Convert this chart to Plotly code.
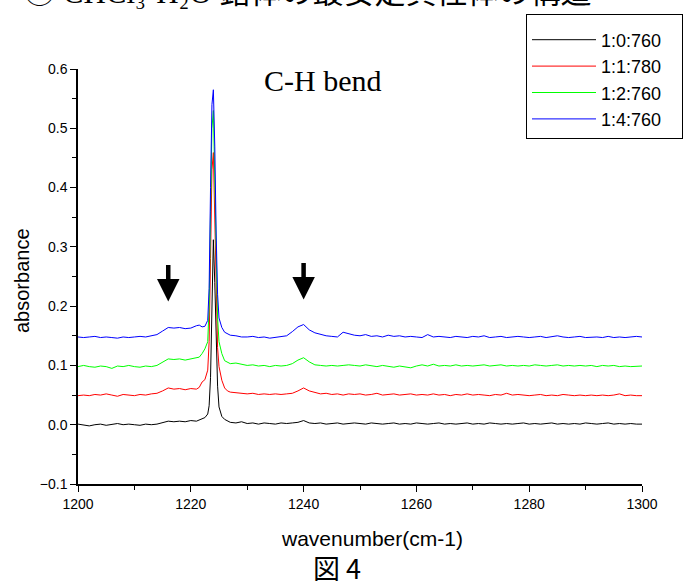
import plotly.graph_objects as go

# ---- data ----
wavenumber = (
    [1200, 1201, 1202, 1203, 1204, 1205, 1206, 1207, 1208, 1209,
     1210, 1211, 1212, 1213, 1214, 1215, 1216, 1217, 1218, 1219,
     1220, 1221]
    + [1221.5, 1222, 1222.5, 1223, 1223.25, 1223.5, 1223.75, 1224,
       1224.25, 1224.5, 1224.75, 1225, 1225.5, 1226, 1226.5, 1227]
    + list(range(1228, 1301))
)

abs_1_0_760 = [
    0.001, 0.000, -0.002, 0.000, 0.001, -0.001, 0.000, 0.002, 0.000, 0.001,
    0.000, -0.001, 0.001, 0.000, 0.001, 0.003, 0.006, 0.005, 0.006, 0.005,
    0.007, 0.006,
    0.008, 0.009, 0.012, 0.018, 0.032, 0.080, 0.210, 0.312,
    0.240, 0.130, 0.065, 0.030, 0.014, 0.009, 0.006, 0.004,
    0.003, 0.005, 0.002, 0.003, 0.001, 0.003, 0.002, 0.001, 0.003, 0.002,
    0.003, 0.004, 0.007, 0.003, 0.002, 0.003, 0.001, 0.002, 0.003, 0.001,
    0.002, 0.003, 0.002, 0.001, 0.003, 0.002, 0.001, 0.002, 0.003, 0.001,
    0.002, 0.001, 0.003, 0.002, 0.001, 0.002, 0.003, 0.001, 0.002, 0.001,
    0.002, 0.003, 0.001, 0.002, 0.001, 0.003, 0.002, 0.001, 0.002, 0.001,
    0.002, 0.003, 0.001, 0.002, 0.001, 0.002, 0.003, 0.001, 0.002, 0.001,
    0.002, 0.001, 0.003, 0.002, 0.001, 0.002, 0.003, 0.001, 0.002, 0.001,
    0.002, 0.001, 0.001,
]

abs_1_1_780 = [
    0.049, 0.050, 0.049, 0.051, 0.050, 0.052, 0.050, 0.048, 0.051, 0.050,
    0.049, 0.051, 0.050, 0.052, 0.053, 0.057, 0.062, 0.060, 0.061, 0.059,
    0.061, 0.060,
    0.063, 0.072, 0.076, 0.092, 0.140, 0.280, 0.430, 0.459,
    0.360, 0.220, 0.130, 0.098, 0.075, 0.062, 0.057, 0.055,
    0.054, 0.053, 0.052, 0.053, 0.051, 0.052, 0.051, 0.052, 0.051, 0.052,
    0.053, 0.057, 0.062, 0.057, 0.054, 0.052, 0.053, 0.051, 0.052, 0.050,
    0.052, 0.051, 0.052, 0.050, 0.051, 0.053, 0.050, 0.051, 0.052, 0.050,
    0.051, 0.052, 0.050, 0.051, 0.050, 0.052, 0.050, 0.051, 0.049, 0.051,
    0.050, 0.052, 0.050, 0.051, 0.050, 0.049, 0.051, 0.050, 0.053, 0.050,
    0.051, 0.050, 0.049, 0.050, 0.051, 0.049, 0.050, 0.049, 0.051, 0.050,
    0.049, 0.050, 0.049, 0.050, 0.049, 0.050, 0.049, 0.050, 0.052, 0.049,
    0.050, 0.049, 0.049,
]

abs_1_2_760 = [
    0.098, 0.100, 0.098, 0.097, 0.099, 0.098, 0.095, 0.099, 0.098, 0.100,
    0.098, 0.097, 0.099, 0.098, 0.100, 0.105, 0.111, 0.110, 0.111, 0.109,
    0.111, 0.112,
    0.114, 0.120, 0.128, 0.140, 0.200, 0.360, 0.500, 0.530,
    0.420, 0.280, 0.180, 0.140, 0.120, 0.108, 0.105, 0.103,
    0.104, 0.102, 0.100, 0.101, 0.099, 0.100, 0.098, 0.100, 0.099, 0.100,
    0.103, 0.109, 0.113, 0.106, 0.101, 0.100, 0.099, 0.100, 0.099, 0.100,
    0.101, 0.100, 0.099, 0.101, 0.100, 0.098, 0.100, 0.099, 0.097, 0.099,
    0.098, 0.096, 0.099, 0.101, 0.099, 0.102, 0.099, 0.100, 0.099, 0.101,
    0.099, 0.100, 0.099, 0.100, 0.101, 0.099, 0.100, 0.101, 0.099, 0.100,
    0.099, 0.100, 0.099, 0.101, 0.100, 0.099, 0.100, 0.101, 0.099, 0.100,
    0.099, 0.100, 0.099, 0.100, 0.098, 0.100, 0.099, 0.100, 0.098, 0.099,
    0.098, 0.099, 0.099,
]

abs_1_4_760 = [
    0.148, 0.147, 0.148, 0.149, 0.147, 0.148, 0.147, 0.146, 0.148, 0.147,
    0.148, 0.149, 0.148, 0.150, 0.152, 0.158, 0.164, 0.163, 0.164, 0.162,
    0.163, 0.167,
    0.168, 0.165, 0.166, 0.176, 0.230, 0.400, 0.540, 0.565,
    0.470, 0.320, 0.220, 0.180, 0.164, 0.156, 0.153, 0.151,
    0.150, 0.148, 0.148, 0.149, 0.147, 0.148, 0.146, 0.147, 0.148, 0.150,
    0.157, 0.165, 0.169, 0.160, 0.155, 0.152, 0.150, 0.149, 0.148, 0.156,
    0.153, 0.151, 0.150, 0.152, 0.149, 0.150, 0.148, 0.151, 0.149, 0.150,
    0.148, 0.149, 0.148, 0.147, 0.152, 0.148, 0.149, 0.148, 0.147, 0.149,
    0.148, 0.147, 0.149, 0.148, 0.150, 0.147, 0.148, 0.149, 0.147, 0.148,
    0.149, 0.148, 0.147, 0.148, 0.149, 0.147, 0.148, 0.150, 0.148, 0.147,
    0.148, 0.149, 0.147, 0.148, 0.148, 0.147, 0.149, 0.147, 0.148, 0.147,
    0.148, 0.149, 0.148,
]

series_names = ["1:0:760", "1:1:780", "1:2:760", "1:4:760"]
series_values = [abs_1_0_760, abs_1_1_780, abs_1_2_760, abs_1_4_760]
series_colors = ["#000000", "#ff0000", "#00ff00", "#0000ff"]

arrow_x = [1216, 1240]
arrow_tip_y = [0.208, 0.211]

x_ticks = [1200, 1220, 1240, 1260, 1280, 1300]
y_ticks = [-0.1, 0.0, 0.1, 0.2, 0.3, 0.4, 0.5, 0.6]

# ---- figure ----
SANS = "Liberation Sans, Arial, sans-serif"
SERIF = "Liberation Serif, Times New Roman, serif"

fig = go.Figure()
for name, vals, col in zip(series_names, series_values, series_colors):
    n = min(len(wavenumber), len(vals))
    fig.add_trace(go.Scatter(
        x=wavenumber[:n], y=vals[:n], mode="lines",
        name=name + "&nbsp;&nbsp;&nbsp;",
        line=dict(color=col, width=1),
    ))

fig.update_layout(
    width=683, height=581,
    margin=dict(l=78, r=41, t=69, b=97, autoexpand=False),
    paper_bgcolor="white", plot_bgcolor="white",
    showlegend=True,
    legend=dict(
        xref="container", yref="container",
        x=526 / 683, y=1 - 14 / 581, xanchor="left", yanchor="top",
        bordercolor="black", borderwidth=1, bgcolor="white",
        font=dict(family=SANS, size=18, color="black"),
        itemwidth=64, tracegroupgap=0,
        title=dict(text=" ", font=dict(size=5)),
    ),
    font=dict(family=SANS, color="black"),
)

fig.update_xaxes(
    range=[1200, 1300], tickvals=x_ticks,
    showgrid=False, zeroline=False,
    showline=True, linecolor="black", linewidth=1.5,
    ticks="outside", ticklen=6, tickwidth=1, tickcolor="black",
    minor=dict(dtick=10, ticks="outside", ticklen=4, tickcolor="black", showgrid=False),
    tickfont=dict(family=SANS, size=14, color="black"),
)
fig.update_yaxes(
    range=[-0.1, 0.6], tickvals=y_ticks, tickformat=".1f",
    showgrid=False, zeroline=False,
    showline=True, linecolor="black", linewidth=1.5,
    ticks="outside", ticklen=6, tickwidth=1, tickcolor="black",
    minor=dict(dtick=0.05, tick0=0, ticks="outside", ticklen=4, tickcolor="black", showgrid=False),
    tickfont=dict(family=SANS, size=14, color="black"),
)

# arrows
for ax_, ay_ in zip(arrow_x, arrow_tip_y):
    fig.add_annotation(
        x=ax_, y=ay_, xref="x", yref="y", text="",
        showarrow=True, ax=0, ay=-38, axref="pixel", ayref="pixel",
        arrowhead=2, arrowsize=1.0, arrowwidth=4.5, arrowcolor="black",
    )

# title inside plot
fig.add_annotation(
    text="C-H bend", xref="paper", yref="paper",
    x=(322 - 78) / 564, y=1 - (80 - 69) / 415, xanchor="center", yanchor="middle",
    showarrow=False, font=dict(family=SERIF, size=30, color="black"),
)
# axis titles
fig.add_annotation(
    text="wavenumber(cm-1)", xref="paper", yref="paper",
    x=(372 - 78) / 564, y=-(538 - 484) / 415, xanchor="center", yanchor="middle",
    showarrow=False, font=dict(family=SANS, size=21, color="black"),
)
fig.add_annotation(
    text="absorbance", xref="paper", yref="paper", textangle=-90,
    x=(22 - 78) / 564, y=(484 - 281) / 415, xanchor="center", yanchor="middle",
    showarrow=False, font=dict(family=SANS, size=20, color="black"),
)
# figure caption
fig.add_annotation(
    text="図 4", xref="paper", yref="paper",
    x=(337 - 78) / 564, y=-(567 - 484) / 415, xanchor="center", yanchor="middle",
    showarrow=False, font=dict(family="Noto Sans CJK JP, " + SERIF, size=27, color="black"),
)
# clipped heading at top
fig.add_annotation(
    text="③ CHCl₃-H₂O 錯体の最安定異性体の構造", xref="paper", yref="paper",
    x=(22 - 78) / 564, y=1 + (69 - (-8)) / 415, xanchor="left", yanchor="middle",
    showarrow=False, font=dict(family=SERIF + ", Noto Sans CJK JP", size=31, color="black"),
)

fig.write_html(
    "out.html",
    config={"displayModeBar": False},
    post_script="document.body.style.margin='0';document.body.style.padding='0';",
)
